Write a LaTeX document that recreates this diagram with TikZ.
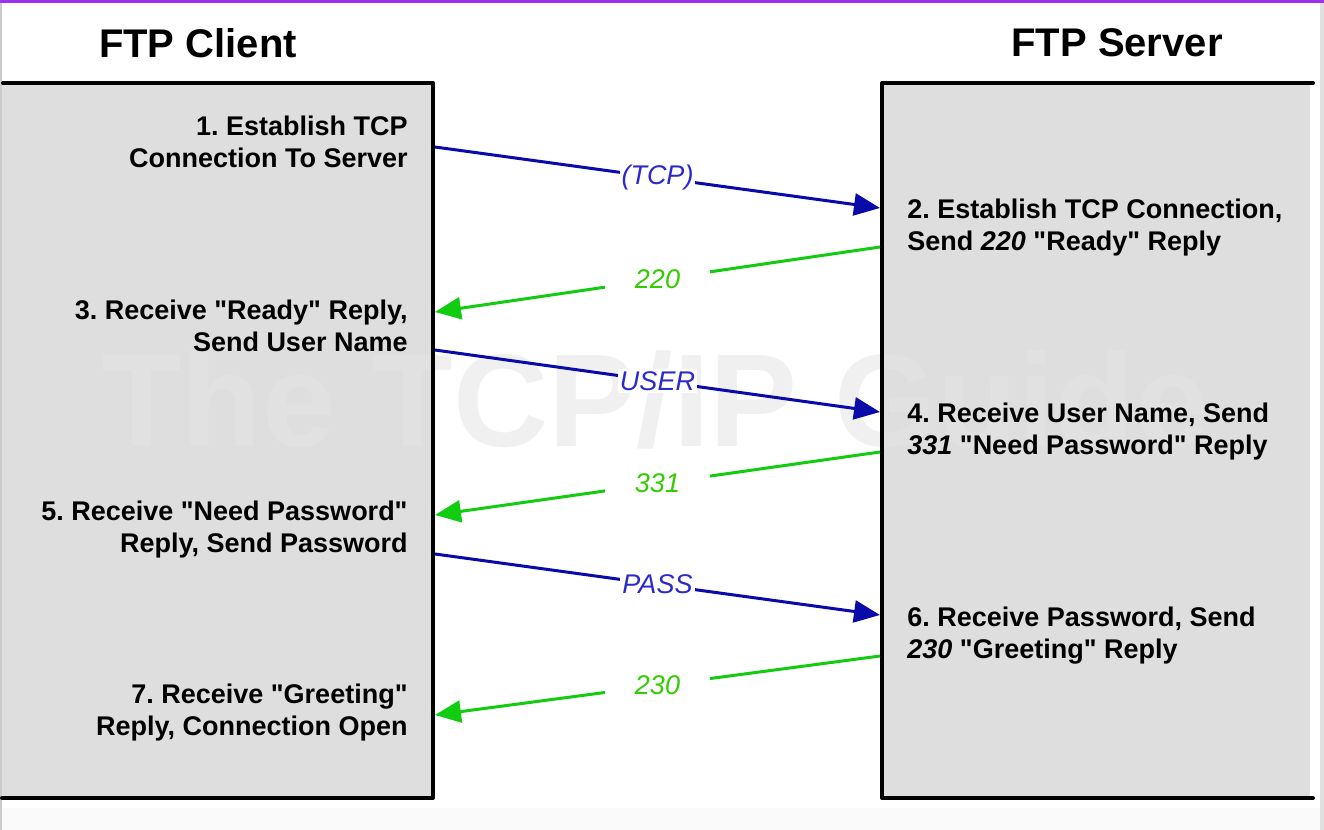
\documentclass[tikz,border=0pt]{standalone}
\usepackage{fontspec}
\setmainfont{Liberation Sans}[Ligatures=TeXOff]
\usepackage{xcolor}
\usetikzlibrary{arrows.meta,positioning,calc}
\frenchspacing

\definecolor{boxgray}{HTML}{DEDEDE}
\definecolor{reqblue}{HTML}{0A0AAA}
\definecolor{reqtxt}{HTML}{2A2ACC}
\definecolor{repgreen}{HTML}{11CC11}
\definecolor{reptxt}{HTML}{33CC00}
\definecolor{topline}{HTML}{A030F0}

\tikzset{
  edge/.style={line width=2pt,line cap=round,line join=round},
  title/.style={font=\fontsize{20}{24}\selectfont\bfseries},
  cltxt/.style={anchor=east,align=right,inner sep=0pt,font=\fontsize{13.5}{16}\selectfont\bfseries},
  srvtxt/.style={anchor=west,align=left,inner sep=0pt,font=\fontsize{13.5}{16}\selectfont\bfseries},
  req/.style={reqblue,line width=1.5pt,-{Triangle[length=13pt,width=11pt]}},
  rep/.style={repgreen,line width=1.5pt,-{Triangle[length=13pt,width=11pt]}},
  reqlab/.style={fill=white,text=reqtxt,inner xsep=1pt,inner ysep=1pt,font=\fontsize{13.5}{16}\selectfont\itshape},
  replab/.style={fill=white,text=reptxt,inner xsep=15pt,inner ysep=1pt,font=\fontsize{13.5}{16}\selectfont\itshape}
}

\begin{document}
\begin{tikzpicture}[x=0.5pt,y=-0.5pt]
  \useasboundingbox (0,0) rectangle (1324,830);
  % frame of the page
  \fill[white] (0,0) rectangle (1324,830);
  \fill[black!2] (0,808) rectangle (1324,830);
  \fill[topline] (0,0) rectangle (1324,3);
  \fill[black!20] (0,3) rectangle (2,830);
  \fill[black!12] (1320,3) rectangle (1324,830);

  % the two hosts
  \fill[boxgray] (2,83) rectangle (433,798);
  \fill[boxgray] (882,83) rectangle (1310,798);

  % watermark
  \node[anchor=base,text=black!10,opacity=0.55,font=\fontsize{66}{70}\selectfont\bfseries] (wm) at (655,446) {The TCP/IP Guide};

  \draw[edge] (3,83) -- (433,83) -- (433,798) -- (2,798);
  \draw[edge] (1313,83) -- (882,83) -- (882,798) -- (1313,798);

  \node[title] (client) at (198,43) {FTP Client};
  \node[title] (server) at (1117,43) {FTP Server};

  % client side steps
  \node[cltxt] (t1) at (408,142) {1. Establish TCP\\Connection To Server};
  \node[cltxt] (t3) at (408,326) {3. Receive "Ready" Reply,\\Send User Name};
  \node[cltxt] (t5) at (408,530) {5. Receive "Need Password"\\Reply, Send Password};
  \node[cltxt] (t7) at (408,713) {7. Receive "Greeting"\\Reply, Connection Open};

  % server side steps
  \node[srvtxt] (t2) at (907,228) {2. Establish TCP Connection,\\Send \textit{220} "Ready" Reply};
  \node[srvtxt] (t4) at (907,432) {4. Receive User Name, Send\\\textit{331} "Need Password" Reply};
  \node[srvtxt] (t6) at (907,636) {6. Receive Password, Send\\\textit{230} "Greeting" Reply};

  % message end points on the box edges
  \foreach \n/\yc/\ys in {a/147/208,b/350/412,c/554/615}{
    \coordinate (c\n) at (435,\yc);
    \coordinate (s\n) at (880,\ys);
  }
  \foreach \n/\ys/\yc in {d/247/312,e/452/515,f/656/715}{
    \coordinate (s\n) at (880,\ys);
    \coordinate (c\n) at (435,\yc);
  }

  % commands
  \foreach \n/\lab in {a/(TCP),b/USER,c/PASS}{
    \draw[req] (c\n) -- node[reqlab]{\lab} (s\n);
  }
  % replies
  \foreach \n/\lab in {d/220,e/331,f/230}{
    \draw[rep] (s\n) -- node[replab]{\lab} (c\n);
  }
\end{tikzpicture}
\end{document}
